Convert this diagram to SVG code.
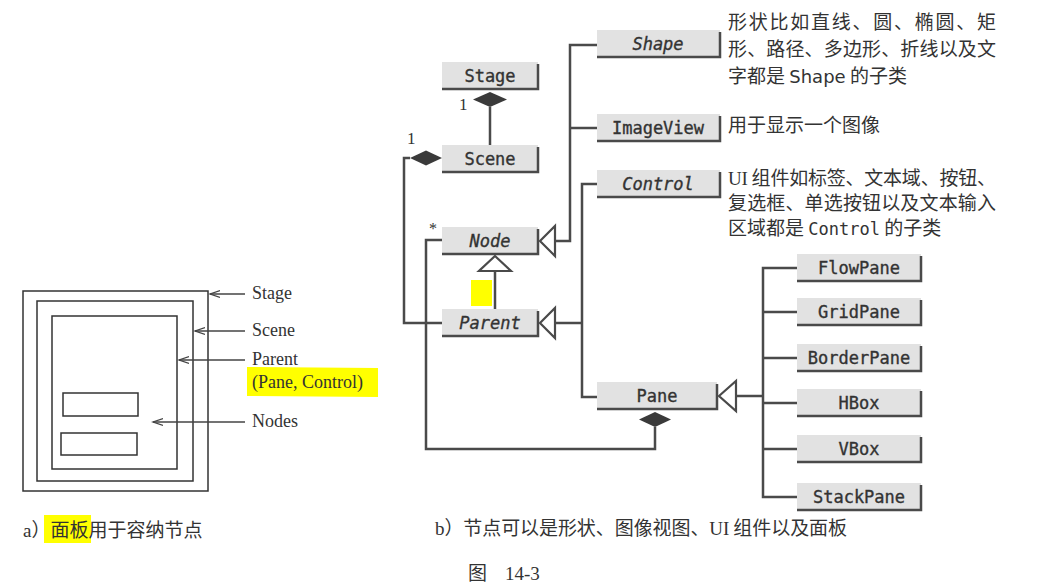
<svg xmlns="http://www.w3.org/2000/svg" width="1039" height="584" viewBox="0 0 1039 584">
<style>
.box{fill:#e2e2e2}
.sh{fill:none;stroke:#4a4a4a;stroke-width:2.5}
.nt{font-family:"DejaVu Sans Mono","Liberation Mono",monospace;font-size:17px;fill:#333;stroke:#333;stroke-width:0.35;text-anchor:middle}
.it{font-style:italic}
.ln{fill:none;stroke:#4a4a4a;stroke-width:2.5}
.dia{fill:#3a3a3a;stroke:none}
.tri{fill:#fff;stroke:#4a4a4a;stroke-width:2.2}
.sf{font-family:"Liberation Serif","Times New Roman",serif;fill:#333}
.cj{font-family:"Noto Sans CJK SC","Noto Sans",sans-serif;font-size:19px;fill:#333}
.pr{fill:none;stroke:#333;stroke-width:1.5}
.ar{fill:none;stroke:#444;stroke-width:1.3}
</style>
<defs>
<marker id="arr" markerWidth="12" markerHeight="10" refX="10" refY="5" orient="auto" markerUnits="userSpaceOnUse">
<path d="M0,1.5 L10,5 L0,8.5" fill="none" stroke="#444" stroke-width="1.3"/>
</marker>
</defs>
<rect width="1039" height="584" fill="#fff"/>

<!-- Part a -->
<g id="panel-a">
<rect class="pr" x="23" y="291" width="185" height="200"/>
<rect class="pr" x="37" y="301" width="156" height="180"/>
<rect class="pr" x="52" y="316" width="125" height="153"/>
<rect class="pr" x="63" y="393" width="75" height="23"/>
<rect class="pr" x="61" y="433" width="76" height="22"/>
<line class="ar" x1="245" y1="294" x2="210" y2="294" marker-end="url(#arr)"/>
<line class="ar" x1="245" y1="331" x2="195" y2="331" marker-end="url(#arr)"/>
<line class="ar" x1="245" y1="360" x2="179" y2="360" marker-end="url(#arr)"/>
<line class="ar" x1="245" y1="422" x2="153" y2="422" marker-end="url(#arr)"/>
<polygon points="247,367 378,368 378,397 247,396" fill="#ffff00"/>
<text class="sf" x="252" y="299" font-size="18">Stage</text>
<text class="sf" x="252" y="336" font-size="18">Scene</text>
<text class="sf" x="252" y="365" font-size="18">Parent</text>
<text class="sf" x="252" y="388" font-size="18">(Pane, Control)</text>
<text class="sf" x="252" y="427" font-size="18">Nodes</text>
<rect x="44" y="515" width="47" height="28" fill="#ffff00"/>
<text class="cj" x="23" y="537"><tspan font-family="Liberation Serif,serif">a</tspan>）面板用于容纳节点</text>
</g>

<!-- Connectors -->
<g id="connectors">
<line class="ln" x1="490" y1="107" x2="490" y2="145"/>
<polygon class="dia" points="490,92 507,99.5 490,107 473,99.5"/>
<polyline class="ln" points="410,158 404,158 404,323 442,323"/>
<polygon class="dia" points="442,158 426,150.5 410,158 426,165.5"/>
<polyline class="ln" points="442,240 426,240 426,449 655,449 655,427"/>
<polygon class="dia" points="655,412 671,419.5 655,427 639,419.5"/>
<line class="ln" x1="495" y1="271" x2="495" y2="309"/>
<polygon class="tri" points="495,256 511,271 479,271"/>
<polyline class="ln" points="597,45 570,45 570,241 555,241"/>
<line class="ln" x1="570" y1="128" x2="597" y2="128"/>
<polygon class="tri" points="540,241 555,226 555,256"/>
<polyline class="ln" points="597,184 582,184 582,397 597,397"/>
<line class="ln" x1="555" y1="323" x2="582" y2="323"/>
<polygon class="tri" points="540,323 555,308 555,338"/>
<line class="ln" x1="736" y1="396" x2="763" y2="396"/>
<polyline class="ln" points="797,268 763,268 763,497 797,497"/>
<line class="ln" x1="763" y1="312" x2="797" y2="312"/>
<line class="ln" x1="763" y1="358" x2="797" y2="358"/>
<line class="ln" x1="763" y1="403" x2="797" y2="403"/>
<line class="ln" x1="763" y1="449" x2="797" y2="449"/>
<polygon class="tri" points="719,396 736,381 736,411"/>
<text class="sf" x="459" y="110" font-size="17">1</text>
<text class="sf" x="407" y="144" font-size="17">1</text>
<text class="sf" x="429" y="234" font-size="16">*</text>
<rect x="471" y="280" width="21" height="26" fill="#ffff00"/>
</g>

<!-- Nodes -->
<g id="node-stage"><rect class="box" x="442" y="62" width="96" height="28"/><path class="sh" d="M442,89 H538 V64"/><text class="nt" x="490" y="82">Stage</text></g>
<g id="node-scene"><rect class="box" x="442" y="145" width="96" height="28"/><path class="sh" d="M442,172 H538 V147"/><text class="nt" x="490" y="165">Scene</text></g>
<g id="node-node"><rect class="box" x="442" y="227" width="96" height="28"/><path class="sh" d="M442,254 H538 V229"/><text class="nt it" x="490" y="247">Node</text></g>
<g id="node-parent"><rect class="box" x="442" y="309" width="96" height="28"/><path class="sh" d="M442,336 H538 V311"/><text class="nt it" x="490" y="329">Parent</text></g>
<g id="node-shape"><rect class="box" x="597" y="30" width="123" height="28"/><path class="sh" d="M597,57 H720 V32"/><text class="nt it" x="658" y="50">Shape</text></g>
<g id="node-imageview"><rect class="box" x="597" y="114" width="123" height="28"/><path class="sh" d="M597,141 H720 V116"/><text class="nt" x="658" y="134">ImageView</text></g>
<g id="node-control"><rect class="box" x="597" y="170" width="123" height="28"/><path class="sh" d="M597,197 H720 V172"/><text class="nt it" x="658" y="190">Control</text></g>
<g id="node-pane"><rect class="box" x="597" y="382" width="120" height="28"/><path class="sh" d="M597,409 H717 V384"/><text class="nt" x="657" y="402">Pane</text></g>
<g id="node-flowpane"><rect class="box" x="797" y="254" width="124" height="28"/><path class="sh" d="M797,281 H921 V256"/><text class="nt" x="859" y="274">FlowPane</text></g>
<g id="node-gridpane"><rect class="box" x="797" y="298" width="124" height="28"/><path class="sh" d="M797,325 H921 V300"/><text class="nt" x="859" y="318">GridPane</text></g>
<g id="node-borderpane"><rect class="box" x="797" y="344" width="124" height="28"/><path class="sh" d="M797,371 H921 V346"/><text class="nt" x="859" y="364">BorderPane</text></g>
<g id="node-hbox"><rect class="box" x="797" y="389" width="124" height="28"/><path class="sh" d="M797,416 H921 V391"/><text class="nt" x="859" y="409">HBox</text></g>
<g id="node-vbox"><rect class="box" x="797" y="435" width="124" height="28"/><path class="sh" d="M797,462 H921 V437"/><text class="nt" x="859" y="455">VBox</text></g>
<g id="node-stackpane"><rect class="box" x="797" y="483" width="124" height="28"/><path class="sh" d="M797,510 H921 V485"/><text class="nt" x="859" y="503">StackPane</text></g>

<!-- Annotations -->
<g id="notes">
<text class="cj" x="728" y="29" textLength="268" lengthAdjust="spacing">形状比如直线、圆、椭圆、矩</text>
<text class="cj" x="728" y="56" textLength="268" lengthAdjust="spacing">形、路径、多边形、折线以及文</text>
<text class="cj" x="728" y="83">字都是 <tspan font-family="DejaVu Sans,sans-serif" font-size="18">Shape</tspan> 的子类</text>
<text class="cj" x="728" y="132">用于显示一个图像</text>
<text class="cj" x="728" y="185" textLength="268" lengthAdjust="spacing"><tspan font-family="Liberation Serif,serif">UI</tspan> 组件如标签、文本域、按钮、</text>
<text class="cj" x="728" y="210" textLength="268" lengthAdjust="spacing">复选框、单选按钮以及文本输入</text>
<text class="cj" x="728" y="235">区域都是 <tspan font-family="DejaVu Sans Mono,monospace" font-size="17">Control</tspan> 的子类</text>
<text class="cj" x="435" y="535" textLength="412" lengthAdjust="spacing"><tspan font-family="Liberation Serif,serif">b</tspan>）节点可以是形状、图像视图、<tspan font-family="Liberation Serif,serif">UI</tspan> 组件以及面板</text>
<text class="cj" x="468" y="580" font-size="18">图<tspan class="sf" x="505" font-size="19">14-3</tspan></text>
</g>
</svg>
